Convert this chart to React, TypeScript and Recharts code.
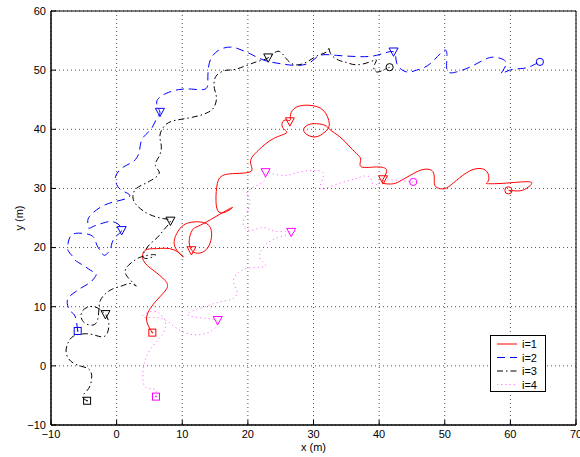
import React from "react";
import {
  ScatterChart,
  Scatter,
  XAxis,
  YAxis,
  CartesianGrid,
  ReferenceArea,
  Legend,
} from "recharts";

// axis ticks
const xTicks = [-10, 0, 10, 20, 30, 40, 50, 60, 70];
const yTicks = [-10, 0, 10, 20, 30, 40, 50, 60];

const names = ["i=1", "i=2", "i=3", "i=4"];

// trajectories, [x, y] in metres
const path1 = [
  [5.44, 5.62], [4.58, 8.26], [6.1, 11.08], [7.63, 13.05], [7.37, 14.46], [5.59, 16.15],
  [4.07, 17.84], [4.32, 19.53], [6.1, 19.82], [8.64, 19.65], [10.16, 18.41], [8.9, 20.1],
  [9.15, 22.35], [10.16, 23.76], [11.69, 24.33], [13.72, 24.04], [14.48, 22.35], [13.97, 20.1],
  [12.7, 19.08], [11.43, 19.53], [11.08, 21.51], [11.69, 23.2], [13.21, 24.04], [17.53, 26.75],
  [16.01, 25.85], [15.14, 27.99], [15.35, 30.81], [16.77, 32.39], [20.32, 32.78], [20.4, 34.47],
  [21.59, 36.44], [23.88, 38.42], [25.9, 39.4], [25.3, 40.3], [25.5, 41.5], [26.4, 41.5],
  [26.5, 42.5], [27.43, 43.77], [29.46, 44.05], [31.49, 43.21], [32.41, 40.95], [31.75, 39.55],
  [30.23, 38.7], [28.7, 39.38], [28.7, 40.39], [29.97, 40.95], [31.75, 40.67], [32.51, 39.94],
  [34.04, 38.7], [35.56, 37.01], [36.83, 35.6], [37.19, 34.75], [37.34, 33.63], [39.63, 33.63],
  [41.15, 33.06], [40.54, 31.4], [40.9, 30.8], [42.2, 30.8], [43.4, 31.37], [45.2, 32.5],
  [46.7, 33.2], [48.0, 33.06], [48.4, 31.9], [48.5, 30.5], [49.3, 29.96], [50.3, 30.1],
  [51.8, 31.37], [53.8, 32.95], [55.6, 33.35], [56.6, 32.5], [56.6, 31.2], [56.5, 30.8],
  [59.4, 30.9], [63.0, 31.1], [62.7, 30.2], [61.5, 29.6], [59.7, 29.68],
];

const path2 = [
  [-5.93, 5.9], [-6.3, 8.3], [-6.9, 9.1], [-7.4, 10.0], [-7.4, 11.4], [-6.3, 12.5],
  [-5.6, 13.05], [-4.3, 13.9], [-3.5, 14.7], [-3.1, 15.5], [-3.55, 15.9], [-4.3, 16.4],
  [-5.1, 17.0], [-6.3, 17.85], [-6.85, 18.7], [-7.4, 19.5], [-7.4, 20.7], [-7.1, 21.8],
  [-6.3, 22.4], [-4.8, 22.35], [-3.55, 21.8], [-3.0, 20.4], [-2.3, 19.2], [-1.8, 18.7],
  [-1.0, 19.6], [-0.7, 20.8], [0.0, 22.0], [0.77, 22.9], [0.2, 24.0], [-1.0, 24.4],
  [-2.2, 24.1], [-3.5, 23.6], [-4.3, 23.3], [-4.4, 24.3], [-4.1, 25.3], [-2.5, 26.8],
  [-0.5, 27.7], [1.5, 28.3], [1.9, 29.0], [0.6, 29.8], [-0.1, 31.0], [-0.1, 32.2],
  [1.0, 33.6], [2.6, 34.6], [3.4, 36.0], [3.6, 37.3], [4.1, 38.7], [5.3, 40.1],
  [6.1, 41.8], [6.6, 42.9], [6.1, 44.6], [7.4, 46.0], [9.4, 46.7], [11.4, 46.8],
  [13.5, 46.8], [13.9, 48.3], [14.0, 50.5], [14.5, 52.2], [15.75, 53.5], [17.5, 53.9],
  [18.8, 53.5], [20.3, 52.8], [22.4, 51.7], [24.9, 51.1], [27.4, 50.8], [29.5, 51.3],
  [31.0, 52.5], [33.5, 52.5], [36.6, 52.3], [39.6, 52.5], [42.2, 53.1], [42.7, 51.1],
  [44.2, 49.7], [45.7, 50.0], [47.8, 51.1], [50.0, 53.4], [50.3, 51.5], [50.5, 49.7],
  [51.8, 49.7], [53.8, 50.5], [55.9, 51.7], [57.4, 52.2], [58.9, 51.8], [59.3, 50.8],
  [58.6, 49.4], [59.9, 50.0], [62.0, 50.3], [63.2, 50.7], [64.5, 51.4],
];

const path3 = [
  [-4.5, -5.9], [-5.2, -5.2], [-4.6, -4.3], [-4.0, -3.2], [-3.8, -1.6], [-4.3, -0.5],
  [-5.6, 0.0], [-7.0, 0.8], [-7.7, 2.3], [-7.4, 3.9], [-6.6, 5.0], [-5.2, 5.4],
  [-3.7, 5.3], [-2.2, 4.9], [-1.4, 5.6], [-1.2, 7.2], [-1.7, 8.7], [-2.9, 9.8],
  [-4.2, 10.0], [-5.2, 9.3], [-5.4, 8.2], [-4.8, 7.2], [-3.6, 6.9], [-2.9, 7.8],
  [-2.7, 9.6], [-2.5, 11.0], [-1.8, 12.1], [-0.6, 13.0], [1.0, 13.6], [2.2, 13.9],
  [3.0, 13.5], [2.0, 14.6], [1.3, 15.9], [1.8, 17.0], [2.8, 17.9], [4.0, 18.5],
  [5.9, 18.8], [4.9, 18.2], [4.0, 18.5], [4.4, 19.6], [5.1, 20.6], [6.2, 21.7],
  [7.2, 23.0], [8.2, 24.5], [7.1, 24.9], [5.0, 25.6], [3.6, 26.6], [2.7, 27.7],
  [2.5, 28.9], [3.0, 30.0], [4.1, 30.7], [5.3, 31.4], [6.5, 32.6], [5.9, 33.9],
  [6.5, 35.5], [6.8, 37.3], [6.6, 39.0], [7.4, 40.7], [8.9, 41.5], [11.4, 42.0],
  [14.0, 42.9], [15.0, 44.1], [15.2, 45.5], [14.9, 46.9], [14.9, 48.3], [15.5, 49.4],
  [16.8, 50.0], [18.3, 50.2], [21.3, 51.4], [23.1, 52.1], [24.6, 53.2], [25.8, 52.0],
  [27.2, 50.9], [29.0, 51.4], [30.7, 52.5], [32.0, 53.1], [32.4, 53.9], [32.6, 52.8],
  [33.8, 51.7], [35.0, 51.3], [36.6, 50.9], [38.6, 51.4], [39.6, 51.7], [39.2, 50.6],
  [39.6, 49.7], [40.6, 50.0], [41.6, 50.5],
];

const path4 = [
  [6.0, -5.2], [5.9, -4.0], [4.4, -3.6], [4.0, -1.5], [4.4, 1.2], [5.6, 3.5],
  [6.9, 5.2], [7.5, 7.0], [6.8, 8.6], [5.3, 9.2], [4.0, 8.3], [6.5, 8.1],
  [8.6, 6.8], [10.7, 5.5], [12.7, 5.3], [14.6, 6.0], [15.4, 7.5], [13.8, 8.0],
  [10.8, 8.7], [13.2, 9.9], [15.7, 10.8], [17.8, 11.4], [18.3, 12.8], [17.8, 14.4],
  [18.8, 16.0], [20.8, 16.6], [22.7, 16.9], [21.8, 18.4], [22.8, 20.6], [24.9, 21.8],
  [26.6, 22.6], [24.0, 22.8], [22.3, 23.4], [20.3, 22.9], [19.3, 24.0], [19.8, 25.7],
  [20.3, 28.0], [19.8, 29.1], [20.8, 30.2], [22.6, 31.4], [22.7, 32.6], [25.4, 32.2],
  [28.0, 32.8], [30.7, 33.0], [31.5, 32.0], [31.0, 30.0], [33.0, 30.5], [35.6, 31.4],
  [37.1, 31.9], [38.6, 31.9], [39.1, 30.2], [40.1, 31.1], [42.7, 31.4], [45.2, 31.1],
];

// intermediate positions (triangles)
const mid1 = [[11.4, 19.5], [26.4, 41.3], [40.6, 31.5]];
const mid2 = [[0.77, 22.9], [6.6, 42.9], [42.2, 53.1]];
const mid3 = [[-1.7, 8.7], [8.2, 24.5], [23.1, 52.1]];
const mid4 = [[15.4, 7.7], [26.6, 22.6], [22.7, 32.7]];

const toPts = (arr: number[][]) => arr.map(([x, y]) => ({ x, y }));

const series = [
  { name: names[0], path: path1, mid: mid1, color: "#ff0000", dash: undefined, opacity: 1 },
  { name: names[1], path: path2, mid: mid2, color: "#0000ff", dash: "8 5", opacity: 1 },
  { name: names[2], path: path3, mid: mid3, color: "#000000", dash: "6 3 1.5 3", opacity: 1 },
  { name: names[3], path: path4, mid: mid4, color: "#ff00ff", dash: "1.2 3", opacity: 0.55 },
];

const font = "'Liberation Sans', Arial, Helvetica, sans-serif";

const Empty = () => <g />;

const squareShape = (color: string) => (p: any) => (
  <g>
    <rect x={p.cx - 3.5} y={p.cy - 3.5} width={7} height={7} fill="none" stroke={color} />
    <circle cx={p.cx} cy={p.cy} r={0.8} fill={color} />
  </g>
);

const triShape = (color: string) => (p: any) => (
  <polygon
    points={`${p.cx - 4.5},${p.cy - 3.8} ${p.cx + 4.5},${p.cy - 3.8} ${p.cx},${p.cy + 4.5}`}
    fill="none"
    stroke={color}
  />
);

const circleShape = (color: string) => (p: any) => (
  <circle cx={p.cx} cy={p.cy} r={3.6} fill="none" stroke={color} />
);

const fmt = (v: number) => (v < 0 ? "\u2212" + Math.abs(v) : String(v));

const LegendBox = () => (
  <svg width={56} height={57} style={{ display: "block" }}>
    <rect x={0.5} y={0.5} width={55} height={56} fill="#fff" stroke="#000" />
    {series.map((s, i) => (
      <g key={s.name}>
        <line
          x1={7}
          x2={27}
          y1={9 + i * 13.5}
          y2={9 + i * 13.5}
          stroke={s.color}
          strokeOpacity={s.opacity}
          strokeDasharray={s.dash}
        />
        <text x={32} y={13 + i * 13.5} fontSize={11} fontFamily={font} fill="#000">
          {s.name}
        </text>
      </g>
    ))}
  </svg>
);

export default function App() {
  const tickStyle = { fontSize: 11, fontFamily: font, fill: "#000" };
  return (
    <div style={{ position: "absolute", left: 0, top: 0, background: "#fff" }}>
      <ScatterChart width={580} height={457} margin={{ top: 11, right: 4, bottom: 0, left: 0 }}>
        <CartesianGrid stroke="#555" strokeDasharray="1 3" />
        <XAxis
          type="number"
          dataKey="x"
          domain={[-10, 70]}
          ticks={xTicks}
          interval={0}
          height={32}
          tickSize={-5}
          tickMargin={10}
          tickFormatter={fmt}
          tick={tickStyle}
          stroke="#000"
          label={{ value: "x (m)", position: "insideBottom", offset: 6, style: tickStyle }}
        />
        <XAxis
          xAxisId="top"
          orientation="top"
          type="number"
          dataKey="x"
          domain={[-10, 70]}
          ticks={xTicks}
          interval={0}
          height={0}
          tickSize={-5}
          tick={false}
          stroke="#000"
        />
        <YAxis
          type="number"
          dataKey="y"
          domain={[-10, 60]}
          ticks={yTicks}
          interval={0}
          width={51}
          tickSize={-5}
          tickMargin={10}
          tickFormatter={fmt}
          tick={tickStyle}
          stroke="#000"
          label={{
            content: (props: any) => {
              const vb = props.viewBox;
              const cx = 23;
              const cy = vb.y + vb.height / 2;
              return (
                <text
                  x={cx}
                  y={cy}
                  transform={`rotate(-90 ${cx} ${cy})`}
                  textAnchor="middle"
                  fontSize={11}
                  fontFamily={font}
                  fill="#000"
                >
                  y (m)
                </text>
              );
            },
          }}
        />
        <YAxis
          yAxisId="right"
          orientation="right"
          type="number"
          dataKey="y"
          domain={[-10, 60]}
          ticks={yTicks}
          interval={0}
          width={0}
          tickSize={-5}
          tick={false}
          stroke="#000"
        />
        <ReferenceArea x1={-10} x2={70} y1={-10} y2={60} fill="none" stroke="#000" strokeWidth={1} />
        {series.map((s) => (
          <Scatter
            key={s.name}
            name={s.name}
            data={toPts(s.path)}
            shape={Empty}
            line={{
              stroke: s.color,
              strokeWidth: 1,
              strokeOpacity: s.opacity,
              strokeDasharray: s.dash,
            }}
            lineJointType="natural"
            isAnimationActive={false}
          />
        ))}
        {series.map((s) => (
          <Scatter
            key={s.name + "-start"}
            data={toPts([s.path[0]])}
            shape={squareShape(s.color)}
            legendType="none"
            isAnimationActive={false}
          />
        ))}
        {series.map((s) => (
          <Scatter
            key={s.name + "-mid"}
            data={toPts(s.mid)}
            shape={triShape(s.color)}
            legendType="none"
            isAnimationActive={false}
          />
        ))}
        {series.map((s) => (
          <Scatter
            key={s.name + "-end"}
            data={toPts([s.path[s.path.length - 1]])}
            shape={circleShape(s.color)}
            legendType="none"
            isAnimationActive={false}
          />
        ))}
        <Legend
          layout="horizontal"
          verticalAlign="middle"
          align="center"
          content={() => <LegendBox />}
          wrapperStyle={{ position: "absolute", left: 490, top: 335, width: 56, height: 57 }}
        />
      </ScatterChart>
    </div>
  );
}
